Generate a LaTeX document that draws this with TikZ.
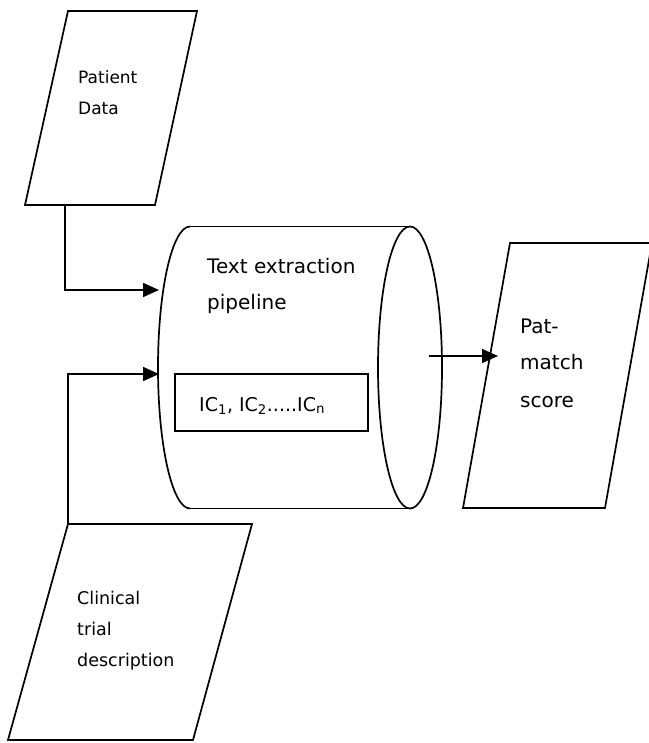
\documentclass[tikz,border=0pt]{standalone}
\usepackage{fontspec}
\setmainfont{DejaVu Sans}
\usetikzlibrary{arrows.meta}
\begin{document}
\begin{tikzpicture}[x=1pt,y=-1pt,
  shapeline/.style={draw=black, line width=1.7pt, line join=miter},
  lbl/.style={anchor=base west, inner sep=0pt},
  conn/.style={draw=black, line width=1.7pt, -{Triangle[length=16pt,width=14pt]}}]
\useasboundingbox[fill=white] (0,0) rectangle (648,743);

% Patient Data parallelogram
\coordinate (pdTL) at (68,11);
\coordinate (pdTR) at (197,11);
\coordinate (pdBR) at (155,205);
\coordinate (pdBL) at (25,205);
\draw[shapeline] (pdTL) -- (pdTR) -- (pdBR) -- (pdBL) -- cycle;
\node[lbl, font=\fontsize{17}{20}\selectfont] (pd1) at (78,84) {Patient};
\node[lbl, font=\fontsize{17}{20}\selectfont] (pd2) at (78,115) {Data};

% Cylinder
\draw[shapeline] (190,226.5) -- (410,226.5);
\draw[shapeline] (190,508.5) -- (410,508.5);
\draw[shapeline] (190,226.5) arc[start angle=270, end angle=90, x radius=32, y radius=141];
\draw[shapeline] (410,367.5) ellipse [x radius=32, y radius=141];
\node[lbl, font=\fontsize{20}{24}\selectfont] (te1) at (207,273) {Text extraction};
\node[lbl, font=\fontsize{20}{24}\selectfont] (te2) at (207,309) {pipeline};

% IC box
\draw[shapeline] (175,374) rectangle (368,431);
\node[lbl, font=\fontsize{19}{22}\selectfont] (ic) at (199,411) {IC\textsubscript{1}, IC\textsubscript{2}.....IC\textsubscript{n}};

% Pat-match score parallelogram
\coordinate (pmTL) at (510,243);
\coordinate (pmTR) at (652,243);
\coordinate (pmBR) at (605,508);
\coordinate (pmBL) at (463,508);
\draw[shapeline] (pmTL) -- (pmTR) -- (pmBR) -- (pmBL) -- cycle;
\node[lbl, font=\fontsize{20}{24}\selectfont] (pm1) at (520,333) {Pat-};
\node[lbl, font=\fontsize{20}{24}\selectfont] (pm2) at (520,369) {match};
\node[lbl, font=\fontsize{20}{24}\selectfont] (pm3) at (520,407) {score};

% Clinical trial description parallelogram
\coordinate (ctTL) at (68,524);
\coordinate (ctTR) at (252,524);
\coordinate (ctBR) at (193,740);
\coordinate (ctBL) at (8,740);
\draw[shapeline] (ctTL) -- (ctTR) -- (ctBR) -- (ctBL) -- cycle;
\node[lbl, font=\fontsize{17.5}{20}\selectfont] (ct1) at (77,604) {Clinical};
\node[lbl, font=\fontsize{17.5}{20}\selectfont] (ct2) at (77,635) {trial};
\node[lbl, font=\fontsize{17.5}{20}\selectfont] (ct3) at (77,666) {description};

% Connectors
\coordinate (pdOut) at (65,205);
\coordinate (in1) at (159,290);
\coordinate (ctOut) at (68,524);
\coordinate (in2) at (159,374);
\coordinate (outS) at (429,356);
\coordinate (outE) at (498,356);
\draw[conn] (pdOut) |- (in1);
\draw[conn] (ctOut) |- (in2);
\draw[conn] (outS) -- (outE);
\end{tikzpicture}
\end{document}
